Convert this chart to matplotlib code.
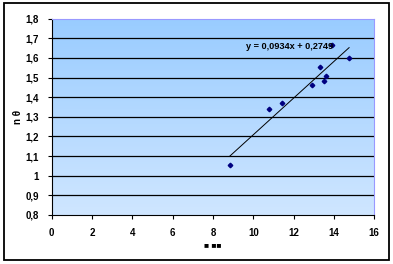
import numpy as np
import matplotlib
matplotlib.use("Agg")
import matplotlib.pyplot as plt
from matplotlib.patches import Rectangle
from matplotlib.colors import LinearSegmentedColormap

# maalepunkter aflaest fra figuren
x_vals = [8.84, 10.79, 11.41, 12.90, 13.32, 13.59, 13.51, 13.92, 14.75]
n_vals = [1.053, 1.342, 1.372, 1.464, 1.552, 1.510, 1.483, 1.664, 1.598]

# lineaer trendlinie som angivet i figuren
slope = 0.0934
intercept = 0.2749
eq_text = "y = 0,0934x + 0,2749"

x_ticks = [0, 2, 4, 6, 8, 10, 12, 14, 16]
y_ticks = [0.8, 0.9, 1.0, 1.1, 1.2, 1.3, 1.4, 1.5, 1.6, 1.7, 1.8]
y_ticklabels = ["0,8", "0,9", "1", "1,1", "1,2", "1,3", "1,4", "1,5", "1,6", "1,7", "1,8"]

plt.rcParams['font.family'] = ['Liberation Sans', 'DejaVu Sans']

W, H = 393, 264
fig = plt.figure(figsize=(W/100, H/100), dpi=100)
fig.patch.set_facecolor("white")

ax = fig.add_axes([51.7/W, 1-215/H, (374.3-51.7)/W, (215-18.7)/H])
ax.set_xlim(0, 16)
ax.set_ylim(0.8, 1.8)

# gradient baggrund (lysere nederst)
cmap = LinearSegmentedColormap.from_list("bg", ["#cfe6ff", "#99ccff"])
grad = np.linspace(0, 1, 256).reshape(-1, 1)
ax.imshow(grad, cmap=cmap, aspect="auto", origin="lower",
          extent=[0, 16, 0.8, 1.8], zorder=0)

for yv in y_ticks[1:-1]:
    ax.axhline(yv, color="black", lw=0.9, zorder=1)

xs = np.array([min(x_vals), max(x_vals)])
ax.plot(xs, slope*xs + intercept, color="black", lw=0.7, zorder=2)
ax.plot(x_vals, n_vals, "D", color="#000080", ms=2.3, mec="#000080", zorder=3)

ax.text(9.65, 1.656, eq_text, fontsize=6.6, fontweight="bold", va="center", ha="left", zorder=4)

ax.set_xticks(x_ticks)
ax.set_xticklabels([str(v) for v in x_ticks], fontweight="bold")
ax.set_yticks(y_ticks)
ax.set_yticklabels(y_ticklabels, fontweight="bold")
ax.tick_params(labelsize=7, length=3, width=0.8, direction="out", pad=6)

ax.spines["top"].set_color("#9999ff")
ax.spines["right"].set_color("#9999ff")
ax.spines["left"].set_linewidth(0.8)
ax.spines["bottom"].set_linewidth(0.8)

ax.set_xlabel("■ ■■", fontsize=6, fontweight="bold", labelpad=4)
ax.set_ylabel("n θ", fontsize=7, fontweight="bold", labelpad=2)

# ramme om hele diagrammet
fig.patches.append(Rectangle((4/W, 1-260/H), 385/W, 257/H, transform=fig.transFigure,
                             fill=False, edgecolor="black", lw=1.3))

fig.savefig("out.png", dpi=100)
